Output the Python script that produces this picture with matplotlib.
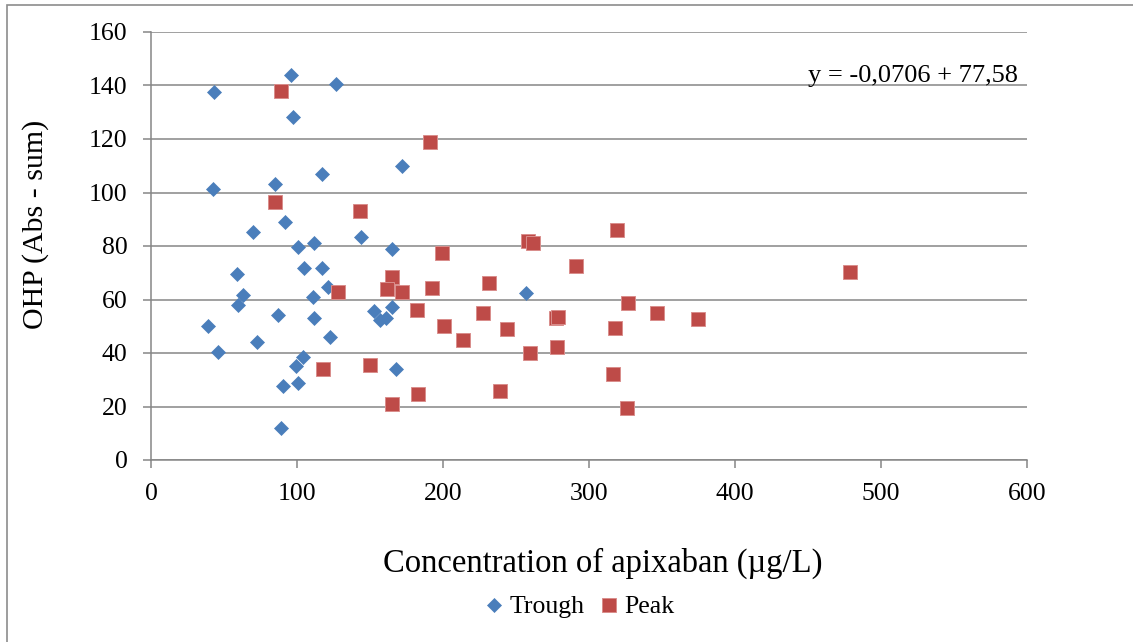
import matplotlib
matplotlib.use("Agg")
import matplotlib.pyplot as plt
from matplotlib.patches import Rectangle

plt.rcParams['font.family'] = ['Liberation Serif', 'DejaVu Serif']

# Apixaban concentration (ug/L) vs OHP (Abs - sum)
trough_conc = [42.9, 95.9, 97.0, 126.7, 42.7, 84.9, 116.9, 91.8, 70.1, 100.9,
               111.9, 58.7, 104.8, 116.9, 121.4, 63.2, 59.8, 110.7, 38.8, 86.8,
               111.9, 122.6, 72.8, 45.9, 103.9, 99.1, 90.2, 100.9, 89.0, 171.7,
               143.8, 164.8, 256.8, 164.8, 152.7, 156.8, 161.0, 167.8]
trough_ohp = [137.5, 143.9, 128.1, 140.6, 101.3, 103.2, 107.0, 88.9, 85.2, 79.7,
              81.0, 69.5, 71.9, 71.9, 64.8, 61.7, 57.9, 60.8, 50.2, 54.3,
              53.2, 45.9, 44.2, 40.3, 38.6, 35.3, 27.7, 28.9, 11.9, 110.0,
              83.5, 78.9, 62.3, 57.3, 55.7, 52.3, 53.0, 33.9]

peak_conc = [89.0, 84.9, 118.0, 191.1, 143.2, 199.1, 258.0, 261.9, 164.8, 161.9,
             171.7, 192.7, 231.7, 127.9, 181.9, 227.6, 200.9, 243.6, 213.9, 259.6,
             150.0, 182.7, 239.0, 164.8, 319.0, 291.1, 478.8, 326.9, 346.8, 374.7,
             277.2, 279.0, 317.8, 277.9, 316.7, 325.8]
peak_ohp = [137.9, 96.6, 34.0, 119.0, 93.1, 77.3, 81.9, 81.0, 68.5, 63.9,
            62.9, 64.4, 66.3, 62.7, 56.1, 55.1, 50.1, 48.9, 44.9, 39.9,
            35.5, 24.6, 25.9, 20.9, 86.0, 72.6, 70.4, 58.6, 55.1, 52.7,
            53.0, 53.6, 49.5, 42.1, 32.0, 19.3]

x_ticks = [0, 100, 200, 300, 400, 500, 600]
y_ticks = [0, 20, 40, 60, 80, 100, 120, 140, 160]
equation = "y = -0,0706 + 77,58"

BLUE = '#4a7ebb'
RED = '#be4b48'
GRID = '#868686'

W, H = 1133, 642
fig = plt.figure(figsize=(W / 100, H / 100), dpi=100)
ax = fig.add_axes([151 / W, 1 - 460 / H, 876 / W, 428 / H])

ax.plot(trough_conc, trough_ohp, linestyle='none', marker='D', markersize=7.3,
        color=BLUE, markeredgecolor=BLUE, markeredgewidth=0.5, label='Trough')
ax.plot(peak_conc, peak_ohp, linestyle='none', marker='s', markersize=10.4,
        color=RED, markeredgecolor='#d98e8c', markeredgewidth=0.7, label='Peak')

ax.set_xlim(0, 600)
ax.set_ylim(0, 160)
ax.set_xticks(x_ticks)
ax.set_yticks(y_ticks)
ax.yaxis.grid(True, color=GRID, linewidth=1.1)
ax.set_axisbelow(True)
for side in ('top', 'right'):
    ax.spines[side].set_visible(False)
for side in ('left', 'bottom'):
    ax.spines[side].set_color(GRID)
    ax.spines[side].set_linewidth(1.1)
ax.tick_params(direction='out', length=5.8, width=1.1, color=GRID,
               labelsize=18.5, pad=11)

fig.text(603 / W, 1 - 572 / H, 'Concentration of apixaban (µg/L)',
         fontsize=23.5, ha='center', va='baseline')
fig.text(36 / W, 1 - 224 / H, 'OHP (Abs - sum)', fontsize=21.5,
         rotation=90, ha='center', va='center')
fig.text(1018 / W, 1 - 82 / H, equation, fontsize=19,
         ha='right', va='baseline')

fig.legend(loc='center', bbox_to_anchor=(580 / W, 1 - 607 / H), ncol=2,
           frameon=False, fontsize=18.5, handlelength=0.7, handletextpad=0.25,
           columnspacing=0.6, borderpad=0)

# outer chart frame, open on the right and bottom
fig.add_artist(Rectangle((7 / W, -0.5), 2, 1.5 - 5 / H, transform=fig.transFigure,
                         fill=False, edgecolor='#8c8c8c', linewidth=1.2))

fig.savefig('out.png', dpi=100)
